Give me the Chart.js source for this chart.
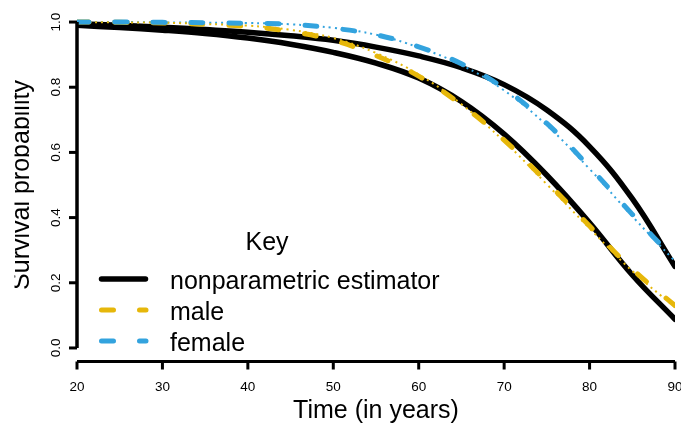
<!DOCTYPE html>
<html>
<head>
<meta charset="utf-8">
<script src="https://cdn.jsdelivr.net/npm/chart.js@4.4.1/dist/chart.umd.min.js"></script>
<style>
  html, body { margin: 0; padding: 0; background: #ffffff; }
  canvas { display: block; }
</style>
</head>
<body>
<canvas id="surv" width="681" height="424" style="width:681px;height:424px"></canvas>
<script>
// Age grid (years) shared by all survival curves
const ages = [20, 25, 30, 35, 40, 45, 50, 55, 60, 65, 70, 75, 80, 85, 90];

// Nonparametric survival estimates
const npFemale = [0.995, 0.990, 0.984, 0.977, 0.969, 0.958, 0.944, 0.923, 0.896, 0.860, 0.808, 0.730, 0.618, 0.458, 0.250];
const npMale   = [0.990, 0.983, 0.975, 0.965, 0.951, 0.932, 0.907, 0.874, 0.828, 0.756, 0.656, 0.530, 0.384, 0.224, 0.088];

// Parametric fits
const parMale   = [1.000, 0.999, 0.997, 0.993, 0.986, 0.971, 0.944, 0.897, 0.834, 0.746, 0.638, 0.509, 0.374, 0.242, 0.130];
const parFemale = [1.000, 1.000, 0.999, 0.998, 0.996, 0.993, 0.981, 0.961, 0.924, 0.872, 0.796, 0.689, 0.555, 0.410, 0.270];
const altMale   = [1.000, 0.999, 0.998, 0.994, 0.989, 0.976, 0.951, 0.905, 0.839, 0.748, 0.634, 0.502, 0.367, 0.236, 0.125];
const altFemale = [1.000, 1.000, 0.999, 0.998, 0.997, 0.993, 0.982, 0.961, 0.922, 0.868, 0.790, 0.683, 0.549, 0.404, 0.266];

// Axis ticks and text
const xTicks = [20, 30, 40, 50, 60, 70, 80, 90];
const yTicks = [0, 0.2, 0.4, 0.6, 0.8, 1.0];
const yTickLabels = ['0.0', '0.2', '0.4', '0.6', '0.8', '1.0'];
const xTitle = 'Time (in years)';
const yTitle = 'Survival probability';
const legendTitle = 'Key';
const legendLabels = ['nonparametric estimator', 'male', 'female'];

const BLACK = '#000000';
const GOLD = '#E6B70A';
const SKY = '#33A3DE';
const FONT = '"Liberation Sans", Arial, Helvetica, sans-serif';

const pts = (vals) => ages.map((a, i) => ({ x: a, y: vals[i] }));

const solid = (vals, order) => ({
  data: pts(vals), borderColor: BLACK, borderWidth: 5.5, order,
  borderCapStyle: 'round', borderJoinStyle: 'round'
});
const dashed = (vals, color, order) => ({
  data: pts(vals), borderColor: color, borderWidth: 5, order,
  borderDash: [12, 26], borderCapStyle: 'round', borderJoinStyle: 'round'
});
const dotted = (vals, color, order) => ({
  data: pts(vals), borderColor: color, borderWidth: 2, order,
  borderDash: [2, 4], borderCapStyle: 'butt'
});

// R-style axes, titles and legend drawn from the chart's own scales
const decorations = {
  id: 'decorations',
  afterDraw(chart) {
    const ctx = chart.ctx;
    const xs = chart.scales.x, ys = chart.scales.y;
    ctx.save();
    ctx.strokeStyle = BLACK;
    ctx.fillStyle = BLACK;
    ctx.lineCap = 'butt';

    // y axis
    const yAxisX = xs.getPixelForValue(20);
    ctx.lineWidth = 3.5;
    ctx.beginPath();
    ctx.moveTo(yAxisX, ys.getPixelForValue(yTicks[0]));
    ctx.lineTo(yAxisX, ys.getPixelForValue(yTicks[yTicks.length - 1]));
    ctx.stroke();
    ctx.lineWidth = 3;
    ctx.font = '13.5px ' + FONT;
    ctx.textAlign = 'center';
    ctx.textBaseline = 'alphabetic';
    yTicks.forEach((v, i) => {
      const py = ys.getPixelForValue(v);
      ctx.beginPath();
      ctx.moveTo(yAxisX - 8, py);
      ctx.lineTo(yAxisX, py);
      ctx.stroke();
      ctx.save();
      ctx.translate(60, py);
      ctx.rotate(-Math.PI / 2);
      ctx.fillText(yTickLabels[i], 0, 0);
      ctx.restore();
    });

    // x axis
    const xAxisY = chart.chartArea.bottom + 0.5;
    ctx.lineWidth = 3;
    ctx.beginPath();
    ctx.moveTo(xs.getPixelForValue(xTicks[0]), xAxisY);
    ctx.lineTo(xs.getPixelForValue(xTicks[xTicks.length - 1]), xAxisY);
    ctx.stroke();
    xTicks.forEach((v) => {
      const px = xs.getPixelForValue(v);
      ctx.beginPath();
      ctx.moveTo(px, xAxisY);
      ctx.lineTo(px, xAxisY + 8);
      ctx.stroke();
      ctx.fillText(String(v), px, 391);
    });

    // axis titles
    ctx.font = '25px ' + FONT;
    ctx.fillText(xTitle, (chart.chartArea.left + chart.chartArea.right) / 2, 418);
    ctx.save();
    ctx.beginPath();
    ctx.rect(14.5, 0, chart.width, chart.height);
    ctx.clip();
    ctx.translate(28.5, (chart.chartArea.top + chart.chartArea.bottom) / 2);
    ctx.rotate(-Math.PI / 2);
    ctx.fillText(yTitle, 0, 0);
    ctx.restore();

    // legend
    ctx.fillText(legendTitle, 267, 250);
    const styles = [
      { color: BLACK, width: 5.5, dash: [] },
      { color: GOLD, width: 5, dash: [12, 26] },
      { color: SKY, width: 5, dash: [12, 26] }
    ];
    ctx.textAlign = 'left';
    legendLabels.forEach((label, i) => {
      const ly = 279 + 31 * i;
      const s = styles[i];
      ctx.save();
      ctx.strokeStyle = s.color;
      ctx.lineWidth = s.width;
      ctx.lineCap = 'round';
      ctx.setLineDash(s.dash);
      ctx.beginPath();
      ctx.moveTo(101.5, ly);
      ctx.lineTo(i === 0 ? 145.5 : 146, ly);
      ctx.stroke();
      ctx.restore();
      ctx.fillText(label, 170, ly + 9.5);
    });
    ctx.restore();
  }
};

new Chart(document.getElementById('surv'), {
  type: 'line',
  data: {
    datasets: [
      solid(npFemale, 3),
      solid(npMale, 3),
      dotted(altMale, GOLD, 2),
      dotted(altFemale, SKY, 2),
      dashed(parMale, GOLD, 1),
      dashed(parFemale, SKY, 0)
    ]
  },
  options: {
    responsive: false,
    animation: false,
    devicePixelRatio: 1,
    layout: { padding: { left: 77, right: 6, top: 9, bottom: 63 } },
    elements: {
      point: { radius: 0, hoverRadius: 0 },
      line: { tension: 0.4, fill: false }
    },
    scales: {
      x: { type: 'linear', min: 20, max: 90, display: false },
      y: { type: 'linear', min: -0.04, max: 1.04, display: false }
    },
    plugins: {
      legend: { display: false },
      tooltip: { enabled: false }
    }
  },
  plugins: [decorations]
});
</script>
</body>
</html>
